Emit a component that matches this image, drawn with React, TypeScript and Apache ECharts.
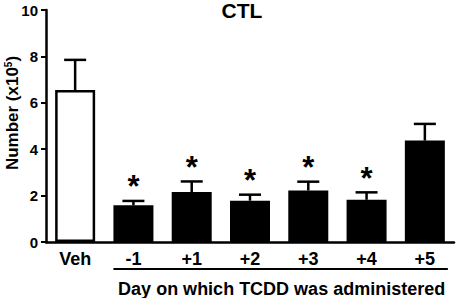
import React, { useEffect, useRef } from 'react';
import * as echarts from 'echarts';

const categories = ['Veh', '-1', '+1', '+2', '+3', '+4', '+5'];
const means = [6.55, 1.58, 2.15, 1.78, 2.22, 1.82, 4.37];
const errors = [1.3, 0.19, 0.46, 0.26, 0.38, 0.32, 0.72];
const significant = [false, true, true, true, true, true, false];
const chartTitle = 'CTL';
const xAxisTitle = 'Day on which TCDD was administered';

const FONT = '"Liberation Sans", Arial, Helvetica, sans-serif';

export default function App() {
  const ref = useRef<HTMLDivElement>(null);
  useEffect(() => {
    if (!ref.current) return;
    const chart = echarts.init(ref.current, null, { renderer: 'svg' });
    const option: any = {
      animation: false,
      backgroundColor: '#fff',
      title: {
        text: chartTitle,
        left: 242,
        top: 0,
        padding: 0,
        textAlign: 'center',
        textStyle: { fontFamily: FONT, fontWeight: 'bold', fontSize: 21, color: '#000', lineHeight: 21 },
      },
      grid: { left: 46, right: 2, top: 10, bottom: 56, containLabel: false, outerBoundsMode: 'none' },
      xAxis: {
        type: 'category',
        data: categories,
        axisLine: { lineStyle: { color: '#000', width: 2.5 } },
        axisTick: { show: false },
        axisLabel: {
          color: '#000',
          fontFamily: FONT,
          fontWeight: 'bold',
          fontSize: 18,
          margin: 8,
        },
      },
      yAxis: {
        type: 'value',
        min: 0,
        max: 10,
        interval: 2,
        name: 'Number (x10{sup|5})',
        nameLocation: 'middle',
        nameGap: 25,
        nameRotate: 90,
        nameMoveOverlap: false,
        nameTextStyle: {
          color: '#000',
          fontFamily: FONT,
          fontWeight: 'bold',
          fontSize: 17,
          padding: [0, 0, 0, 26],
          rich: {
            sup: { fontSize: 10, fontWeight: 'bold', fontFamily: FONT, color: '#000', verticalAlign: 'top', padding: [0, 0, 8, 0] },
          },
        },
        splitLine: { show: false },
        axisLine: { show: true, lineStyle: { color: '#000', width: 2.5 } },
        axisTick: { show: true, length: 5, lineStyle: { color: '#000', width: 2 } },
        axisLabel: {
          color: '#000',
          fontFamily: FONT,
          fontWeight: 'bold',
          fontSize: 15,
          margin: 8,
        },
      },
      series: [
        {
          type: 'bar',
          barWidth: 40,
          data: means.map((v, i) => ({
            value: v,
            itemStyle: i === 0
              ? { color: '#fff', borderColor: '#000', borderWidth: 2.5 }
              : { color: '#000', borderColor: '#000', borderWidth: 0 },
          })),
          z: 2,
        },
        {
          type: 'custom',
          z: 3,
          data: means.map((v, i) => [i, v, errors[i], significant[i] ? 1 : 0]),
          encode: { x: 0, y: 1 },
          renderItem: (params: any, api: any) => {
            const i = api.value(0);
            const m = api.value(1);
            const e = api.value(2);
            const sig = api.value(3);
            const base = api.coord([i, m]);
            const top = api.coord([i, m + e]);
            const cap = 11;
            const children: any[] = [
              { type: 'line', shape: { x1: top[0], y1: base[1], x2: top[0], y2: top[1] }, style: { stroke: '#000', lineWidth: 2.5 } },
              { type: 'line', shape: { x1: top[0] - cap, y1: top[1], x2: top[0] + cap, y2: top[1] }, style: { stroke: '#000', lineWidth: 2.5 } },
            ];
            if (sig) {
              children.push({
                type: 'text',
                x: top[0],
                y: top[1] - 14,
                style: {
                  text: '*',
                  fontFamily: FONT,
                  fontWeight: 'bold',
                  fontSize: 31,
                  fill: '#000',
                  align: 'center',
                  verticalAlign: 'middle',
                },
              });
            }
            return { type: 'group', children };
          },
        },
      ],
    };
    chart.setOption(option);
    const left = chart.convertToPixel({ xAxisIndex: 0 }, categories[1]) as number;
    const right = chart.convertToPixel({ xAxisIndex: 0 }, categories[categories.length - 1]) as number;
    const x1 = left - 20;
    const x2 = right + 23;
    chart.setOption({
      graphic: [
        { type: 'line', shape: { x1, y1: 269, x2, y2: 269 }, style: { stroke: '#000', lineWidth: 2 } },
        {
          type: 'text',
          x: (x1 + x2) / 2 + 1,
          y: 289,
          style: {
            text: xAxisTitle,
            fontFamily: FONT,
            fontWeight: 'bold',
            fontSize: 18,
            fill: '#000',
            align: 'center',
            verticalAlign: 'middle',
          },
        },
      ],
    });
    return () => chart.dispose();
  }, []);
  return <div ref={ref} style={{ width: 456, height: 298, position: 'absolute', left: 0, top: 0 }} />;
}
